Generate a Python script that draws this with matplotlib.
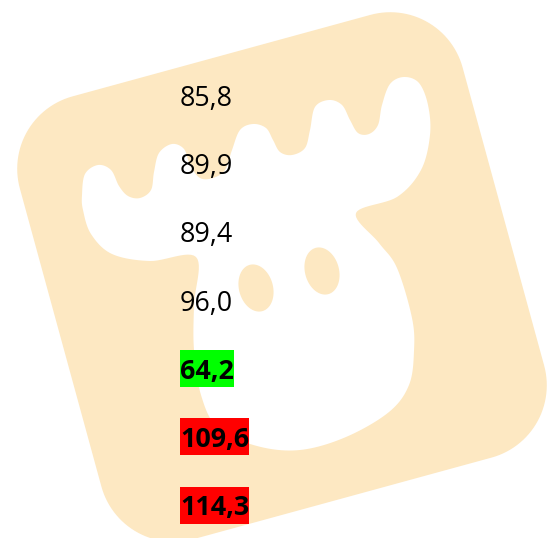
import numpy as np
import matplotlib.pyplot as plt
from matplotlib.patches import Polygon, Rectangle

# values shown in the list, top to bottom
values = ['85,8', '89,9', '89,4', '96,0', '64,2', '109,6', '114,3']
# highlight colour per value (None = plain text)
highlight = [None, None, None, None, '#00ff00', '#ff0000', '#ff0000']

W, H = 559, 538
logo_col = '#fde8c2'

fig = plt.figure(figsize=(W / 100, H / 100), dpi=100)
ax = fig.add_axes([0, 0, 1, 1])
ax.set_xlim(0, W)
ax.set_ylim(H, 0)
ax.axis('off')

# --- background logo (rotated rounded square with moose head) ---
ang = np.deg2rad(15.3)
u = np.array([np.cos(ang), -np.sin(ang)])
v = np.array([np.sin(ang), np.cos(ang)])
centre = np.array([282.0, 277.0])

def to_img(x, y):
    return centre + np.outer(x, u) + np.outer(y, v)

half, rad = 229.5, 75
a = half - rad
pts = []
for (cx, cy), t0 in [((a, -a), -90), ((a, a), 0), ((-a, a), 90), ((-a, -a), 180)]:
    t = np.deg2rad(np.linspace(t0, t0 + 90, 30))
    pts.append(np.column_stack([cx + rad * np.cos(t), cy + rad * np.sin(t)]))
pts = np.vstack(pts)
ax.add_patch(Polygon(to_img(pts[:, 0], pts[:, 1]), closed=True, fc=logo_col, ec='none', zorder=0))


def smooth(p, n=12):
    p = np.asarray(p, float)
    out = []
    N = len(p)
    t = np.linspace(0, 1, n, endpoint=False)[:, None]
    for i in range(N):
        p0, p1, p2, p3 = p[i - 1], p[i], p[(i + 1) % N], p[(i + 2) % N]
        out.append(0.5 * (2 * p1 + (-p0 + p2) * t + (2 * p0 - 5 * p1 + 4 * p2 - p3) * t ** 2
                          + (-p0 + 3 * p1 - 3 * p2 + p3) * t ** 3))
    return np.vstack(out)

moose = [(82, 195), (85, 174), (98, 165), (111, 170), (119, 186), (128, 196), (140, 198),
         (151, 190), (154, 172), (159, 153), (172, 144), (184, 149), (190, 165), (200, 178),
         (213, 178), (225, 170), (232, 150), (240, 130), (253, 124), (266, 128), (273, 140),
         (280, 152), (292, 155), (305, 148), (310, 130), (315, 107), (329, 100), (342, 105),
         (350, 120), (358, 133), (369, 134), (378, 125), (382, 105), (390, 84), (404, 77),
         (419, 83), (428, 105), (430, 135), (421, 170), (397, 197), (356, 213),
         (379, 243), (397, 268), (412, 318), (414, 351), (409, 385), (389, 412), (346, 437),
         (300, 450), (257, 446), (218, 428), (201, 395), (194, 350), (194, 305), (196, 257),
         (150, 261), (112, 254), (91, 234), (83, 210)]
ax.add_patch(Polygon(smooth(moose), closed=True, fc='white', ec='none', zorder=1))

# eyes
tt = np.linspace(0, 2 * np.pi, 60)
for ex, ey in [(256, 288), (322, 271)]:
    eye = np.array([ex, ey]) + np.outer(17 * np.cos(tt), u) + np.outer(24 * np.sin(tt), v)
    ax.add_patch(Polygon(eye, closed=True, fc=logo_col, ec='none', zorder=2))

# --- value list ---
fs = 19.4
em = fs * 100 / 72
renderer = fig.canvas.get_renderer()
for i, (val, col) in enumerate(zip(values, highlight)):
    y = 106 + i * 68.2
    txt = ax.text(180, y, val, fontsize=fs, family='Open Sans',
                  fontweight='bold' if col else 'normal', va='baseline', ha='left',
                  color='black', zorder=4)
    if col:
        bb = txt.get_window_extent(renderer)
        ax.add_patch(Rectangle((bb.x0, y - 1.06 * em), bb.width, 1.37 * em,
                               fc=col, ec='none', zorder=3))

fig.savefig('out.png', dpi=100)
